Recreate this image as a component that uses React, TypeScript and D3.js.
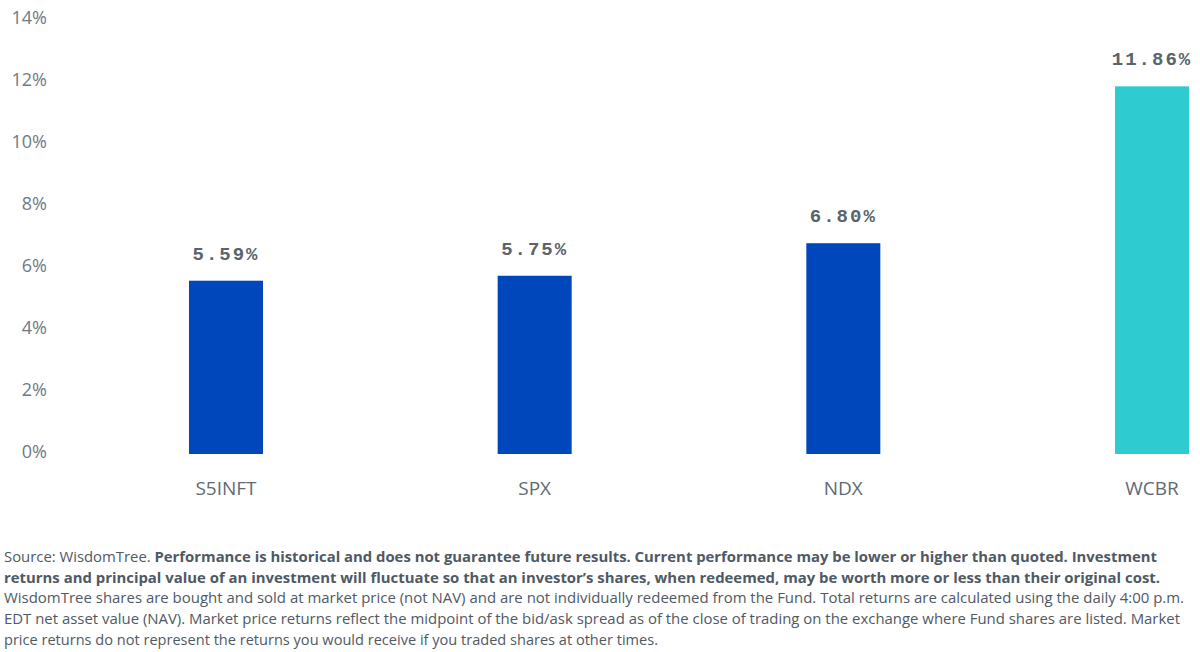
import { useEffect, useRef } from "react"
import * as d3 from "d3"

const categories = ["S5INFT", "SPX", "NDX", "WCBR"]
const returns = [5.59, 5.75, 6.8, 11.86]
const barColors = ["#0047bb", "#0047bb", "#0047bb", "#2ecbd0"]
const yTicks = [0, 2, 4, 6, 8, 10, 12, 14]

const footerLines: Array<Array<{ text: string; bold: boolean }>> = [
  [
    { text: "Source: WisdomTree. ", bold: false },
    {
      text: "Performance is historical and does not guarantee future results. Current performance may be lower or higher than quoted. Investment",
      bold: true,
    },
  ],
  [
    {
      text: "returns and principal value of an investment will fluctuate so that an investor\u2019s shares, when redeemed, may be worth more or less than their original cost.",
      bold: true,
    },
  ],
  [
    {
      text: "WisdomTree shares are bought and sold at market price (not NAV) and are not individually redeemed from the Fund. Total returns are calculated using the daily 4:00 p.m.",
      bold: false,
    },
  ],
  [
    {
      text: "EDT net asset value (NAV). Market price returns reflect the midpoint of the bid/ask spread as of the close of trading on the exchange where Fund shares are listed. Market",
      bold: false,
    },
  ],
  [{ text: "price returns do not represent the returns you would receive if you traded shares at other times.", bold: false }],
]
const footerWidths = [1153, 1156, 1180, 1176, 654]

export default function App() {
  const svgRef = useRef<SVGSVGElement>(null)

  useEffect(() => {
    if (!svgRef.current) return

    const width = 1200
    const height = 652
    const font = "'Open Sans', Lato, sans-serif"

    const svg = d3.select(svgRef.current).attr("width", width).attr("height", height)
    svg.selectAll("*").remove()

    const y = d3.scaleLinear().domain([0, 14]).range([454, 20])
    const x = d3.scalePoint<string>().domain(categories).range([226, 1152])
    const barWidth = 74

    // y tick labels, no axis line
    svg
      .append("g")
      .selectAll("text")
      .data(yTicks)
      .enter()
      .append("text")
      .attr("x", 47)
      .attr("y", (d) => y(d) - 2)
      .attr("dy", "0.35em")
      .attr("text-anchor", "end")
      .attr("font-family", font)
      .attr("font-size", "18px")
      .attr("fill", "#6f7a84")
      .text((d) => `${d}%`)

    const bars = svg
      .append("g")
      .selectAll("g")
      .data(categories)
      .enter()
      .append("g")

    bars
      .append("rect")
      .attr("x", (d) => (x(d) ?? 0) - barWidth / 2)
      .attr("y", (d, i) => y(returns[i]))
      .attr("width", barWidth)
      .attr("height", (d, i) => y(0) - y(returns[i]))
      .attr("fill", (d, i) => barColors[i])

    bars
      .append("text")
      .attr("x", (d) => x(d) ?? 0)
      .attr("y", (d, i) => y(returns[i]) - 21)
      .attr("text-anchor", "middle")
      .attr("font-family", "'Liberation Mono', 'DejaVu Sans Mono', monospace")
      .attr("font-weight", "bold")
      .attr("font-size", "19px")
      .attr("letter-spacing", "2px")
      .attr("fill", "#59636d")
      .text((d, i) => `${returns[i].toFixed(2)}%`)

    bars
      .append("text")
      .attr("x", (d) => x(d) ?? 0)
      .attr("y", 495)
      .attr("text-anchor", "middle")
      .attr("font-family", font)
      .attr("font-size", "19px")
      .attr("fill", "#5f6a74")
      .text((d) => d)

    // footer notes
    const footer = svg.append("g")
    footerLines.forEach((parts, i) => {
      const t = footer
        .append("text")
        .attr("x", 4)
        .attr("y", 562 + i * 20.7)
        .attr("font-family", font)
        .attr("font-size", "14px")
        .attr("fill", "#4f5963")
        .attr("textLength", footerWidths[i])
        .attr("lengthAdjust", "spacingAndGlyphs")
      parts.forEach((p) => {
        t.append("tspan")
          .attr("font-weight", p.bold ? "bold" : "normal")
          .text(p.text)
      })
    })
  }, [])

  return <svg ref={svgRef} style={{ position: "absolute", left: 0, top: 0, background: "#fff" }} />
}
